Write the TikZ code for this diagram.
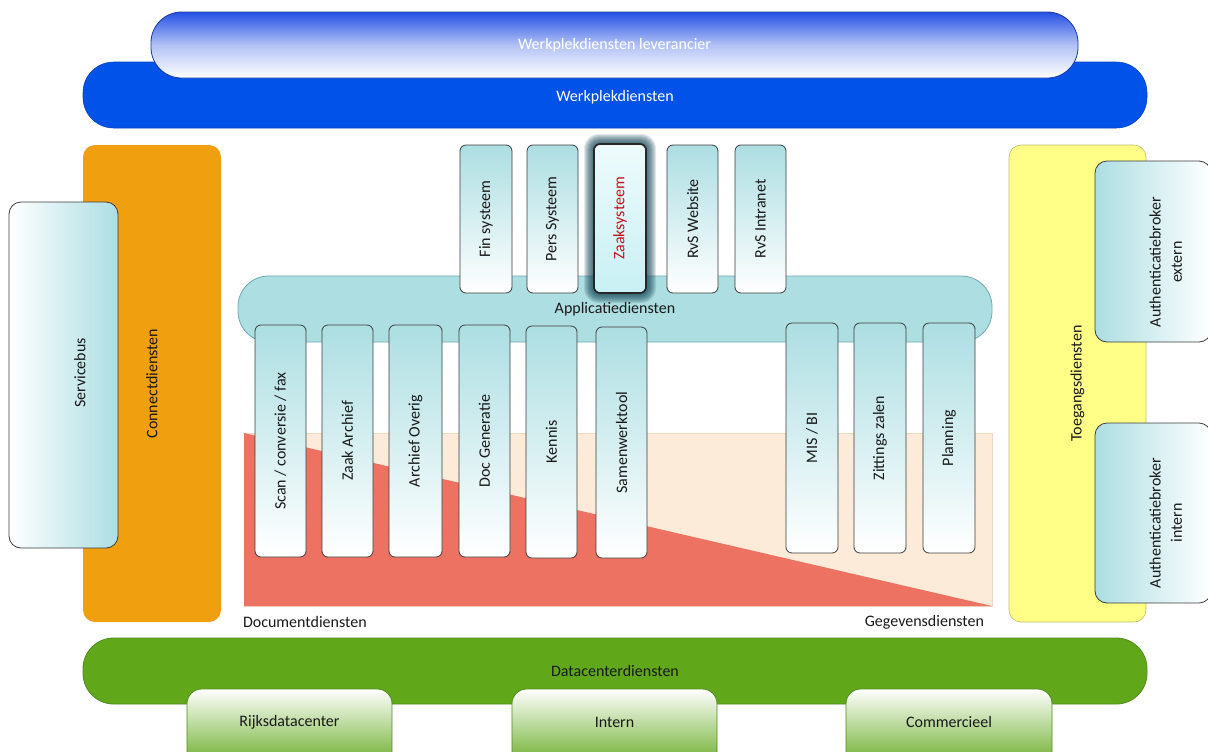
\documentclass[tikz,border=0pt]{standalone}
\usepackage{fontspec}
\setmainfont{Carlito}
\definecolor{wblue}{RGB}{0,82,232}
\definecolor{lblue}{RGB}{36,80,228}
\definecolor{corange}{RGB}{240,160,14}
\definecolor{cyellow}{RGB}{255,255,136}
\definecolor{cyline}{RGB}{190,190,110}
\definecolor{appteal}{RGB}{172,222,226}
\definecolor{appline}{RGB}{110,170,178}
\definecolor{peach}{RGB}{253,235,217}
\definecolor{peachline}{RGB}{240,216,190}
\definecolor{cred}{RGB}{237,114,98}
\definecolor{cgreen}{RGB}{96,168,26}
\definecolor{greenline}{RGB}{80,140,30}
\definecolor{boxline}{RGB}{60,60,60}
\definecolor{glowcol}{RGB}{20,70,85}
\definecolor{txtdark}{RGB}{25,25,25}
\definecolor{zred}{RGB}{200,16,30}
\definecolor{zlight}{RGB}{238,251,252}
\definecolor{zdark}{RGB}{200,240,244}
\begin{document}
\begin{tikzpicture}[x=0.75pt,y=-0.75pt,
  wh/.style 2 args={minimum width=#1*0.75pt, minimum height=#2*0.75pt},
  every node/.style={inner sep=0pt, outer sep=0pt, font=\fontsize{12}{16}\selectfont, text=txtdark},
  pill/.style={rounded corners=23pt},
  vbox/.style={draw=boxline, line width=0.6pt, rounded corners=4.5pt, top color=appteal, bottom color=white},
  sidebox/.style={draw=boxline, line width=0.6pt, rounded corners=9pt},
  subbox/.style={draw=greenline, line width=0.6pt, rounded corners=11pt, top color=white, bottom color=cgreen}
]
\useasboundingbox (0,0) rectangle (1208,751);
\clip (0,0) rectangle (1208,751);

% top bars
\node[pill, fill=wblue, draw=wblue!80!black, wh={1064}{66}] (wpd) at (615,95) {};
\node[text=white] (wpdt) at (615,97) {Werkplekdiensten};
\node[pill, top color=lblue, bottom color=white, middle color=lblue!35!white, draw=lblue!70!black, line width=0.6pt, wh={927}{66}, text=white] (lev) at (614.5,45) {Werkplekdiensten leverancier};

% left side
\node[fill=corange, rounded corners=9pt, wh={138}{477}] (con) at (152,383.5) {\rotatebox{90}{Connectdiensten}};
\node[sidebox, left color=white, right color=appteal, wh={109}{346}] (sb) at (63.5,375) {};
\node (sbt) at (80,373) {\rotatebox{90}{Servicebus}};

% right side
\node[fill=cyellow, draw=cyline, line width=0.5pt, rounded corners=9pt, wh={137}{477}] (toeg) at (1077.5,383.5) {\rotatebox{90}{Toegangsdiensten}};
\node[sidebox, left color=appteal, right color=white, wh={116}{181}] (ae) at (1153,251.5) {};
\node (aet) at (1167,262) {\rotatebox{90}{\begin{tabular}{@{}c@{}}Authenticatiebroker\\extern\end{tabular}}};
\node[sidebox, left color=appteal, right color=white, wh={116}{180}] (ai) at (1153,513) {};
\node (ait) at (1167,523) {\rotatebox{90}{\begin{tabular}{@{}c@{}}Authenticatiebroker\\intern\end{tabular}}};

% document / data area
\fill[peach, draw=peachline, line width=0.5pt] (244,433) rectangle (992,606);
\fill[cred] (244,433) -- (244,606) -- (992,606) -- cycle;
\node[anchor=west] (docd) at (243,622) {Documentdiensten};
\node[anchor=east] (gegd) at (984,622) {Gegevensdiensten};

% applicatiediensten
\node[pill, fill=appteal, draw=appline, line width=0.6pt, wh={754}{66}] (app) at (615,309) {Applicatiediensten};

% top application boxes
\node[vbox, wh={52}{148}] (fin) at (486,219) {\rotatebox{90}{Fin systeem}};
\node[vbox, wh={51}{148}] (pers) at (552.5,219) {\rotatebox{90}{Pers Systeem}};
\foreach \i in {1,...,10}
  \fill[glowcol, opacity=0.13, rounded corners=5pt+\i*0.6pt] (594-\i,144-\i) rectangle (646+\i,293+\i);
\node[draw=black!85, line width=1.3pt, rounded corners=4.5pt, top color=zlight, bottom color=zdark, wh={52}{149}, text=zred] (zaak) at (620,218.5) {\rotatebox{90}{Zaaksysteem}};
\node[vbox, wh={51}{148}] (rvsw) at (692.5,219) {\rotatebox{90}{RvS Website}};
\node[vbox, wh={51}{148}] (rvsi) at (760.5,219) {\rotatebox{90}{RvS Intranet}};

% lower application boxes
\node[vbox, wh={51}{232}] (scan) at (280.5,441) {\rotatebox{90}{Scan / conversie / fax}};
\node[vbox, wh={51}{232}] (zarch) at (347.5,441) {\rotatebox{90}{Zaak Archief}};
\node[vbox, wh={53}{232}] (aover) at (415.5,441) {\rotatebox{90}{Archief Overig}};
\node[vbox, wh={51}{232}] (docg) at (484.5,441) {\rotatebox{90}{Doc Generatie}};
\node[vbox, wh={51}{232}] (kennis) at (551.5,442) {\rotatebox{90}{Kennis}};
\node[vbox, wh={51}{231}] (samen) at (621.5,442.5) {\rotatebox{90}{Samenwerktool}};
\node[vbox, wh={52}{230}] (mis) at (812,438) {\rotatebox{90}{MIS / BI}};
\node[vbox, wh={52}{230}] (zitt) at (880,438) {\rotatebox{90}{Zittings zalen}};
\node[vbox, wh={52}{230}] (plan) at (949,438) {\rotatebox{90}{Planning}};

% datacenter
\node[pill, fill=cgreen, draw=greenline, line width=0.6pt, wh={1064}{66}] (dc) at (615,671) {Datacenterdiensten};
\node[subbox, wh={205}{82}] (rijks) at (289.5,730) {};
\node (rijkst) at (289.5,722) {Rijksdatacenter};
\node[subbox, wh={205}{82}] (intern) at (614.5,730) {};
\node (internt) at (614.5,722) {Intern};
\node[subbox, wh={206}{82}] (comm) at (949,730) {};
\node (commt) at (949,722) {Commercieel};
\end{tikzpicture}
\end{document}
